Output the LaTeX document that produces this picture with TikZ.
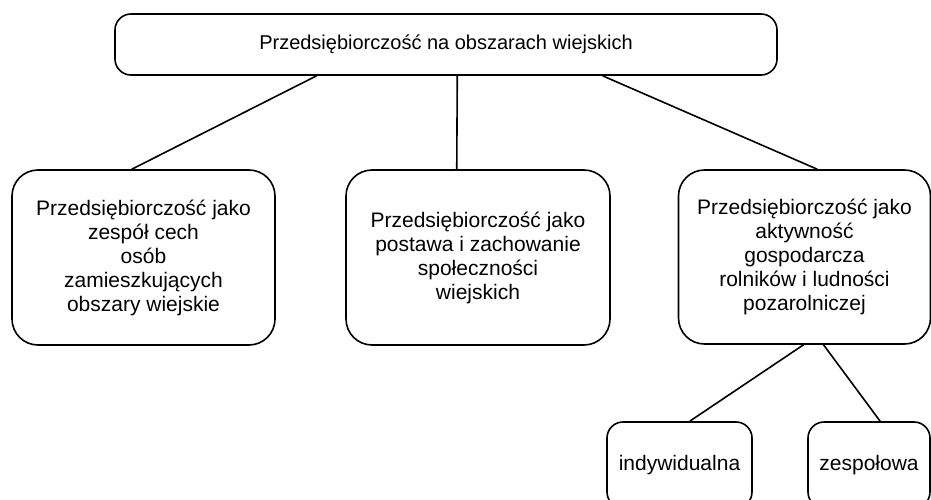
\documentclass[tikz,border=0pt]{standalone}
\usepackage{fontspec}
\setmainfont{Liberation Sans}
\usetikzlibrary{calc}

\begin{document}
\begin{tikzpicture}[x=1pt, y=-1pt,
    box/.style={draw, line width=1.6pt, rounded corners=26pt, align=center,
      inner sep=0pt, font=\fontsize{21}{24}\selectfont},
    smallbox/.style={box, rounded corners=16pt},
    link/.style={line width=1.6pt}]
    \clip (0, 0) rectangle (931, 500);

    % root
    \node[box, rounded corners=16pt, minimum width=662pt, minimum height=61pt,
      font=\fontsize{20}{24}\selectfont]
      (root) at (446, 44.5){Przedsiębiorczość na obszarach wiejskich};

    % three views
    \node[box, minimum width=263pt, minimum height=175pt](cechy) at (143.5, 257.5)
      {Przedsiębiorczość jako\\zespół cech\\osób\\zamieszkujących\\obszary wiejskie};
    \node[box, minimum width=264pt, minimum height=175pt](postawa) at (478, 257.5)
      {Przedsiębiorczość jako\\postawa i zachowanie\\społeczności\\wiejskich};
    \node[box, minimum width=252pt, minimum height=174pt](aktyw) at (804.5, 257)
      {Przedsiębiorczość jako\\aktywność\\gospodarcza\\rolników i ludności\\pozarolniczej};

    % kinds of activity
    \node[smallbox, minimum width=145pt, minimum height=86pt](indyw) at (679.5, 465)
      {indywidualna};
    \node[smallbox, minimum width=122pt, minimum height=86pt](zesp) at (869, 465)
      {zespołowa};

    % links
    \draw[link] ($(root.south west)!0.305!(root.south east)$)
      -- ($(cechy.north west)!0.456!(cechy.north east)$);
    \draw[link] ($(root.south west)!0.517!(root.south east)$)
      -- ($(postawa.north west)!0.42!(postawa.north east)$);
    \draw[link] ($(root.south west)!0.736!(root.south east)$)
      -- ($(aktyw.north west)!0.55!(aktyw.north east)$);
    \draw[link] ($(aktyw.south west)!0.496!(aktyw.south east)$)
      -- ($(indyw.north west)!0.57!(indyw.north east)$);
    \draw[link] ($(aktyw.south west)!0.575!(aktyw.south east)$)
      -- ($(zesp.north west)!0.59!(zesp.north east)$);
  \end{tikzpicture}
\end{document}
